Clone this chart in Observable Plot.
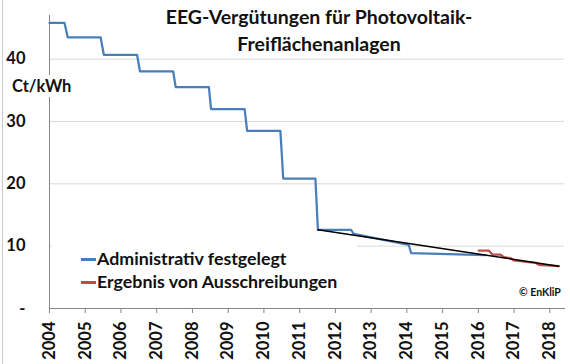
<!DOCTYPE html>
<html>
<head>
<meta charset="utf-8">
<script src="https://cdn.jsdelivr.net/npm/d3@7"></script>
<script src="https://cdn.jsdelivr.net/npm/@observablehq/plot@0.6"></script>
<style>
  html, body { margin: 0; padding: 0; background: #fff; }
  #wrap { position: relative; width: 570px; height: 364px; overflow: hidden; font-family: Lato, "Open Sans", sans-serif; font-weight: bold; color: #111; }
  #wrap svg { position: absolute; left: 0; top: 0; }
  .ov { position: absolute; white-space: nowrap; }
  #border { position: absolute; left: 2px; top: 0; width: 0; height: 364px; border-left: 1px solid #c8c8c8; }
  #title { left: 119px; width: 400px; top: 3px; text-align: center; font-size: 19.5px; line-height: 27px; }
  #unit { left: 10px; top: 75px; font-size: 16.5px; line-height: 22px; background: #fff; padding: 0 2px; }
  #legend { left: 52px; top: 238px; width: 305px; height: 56px; background: #fff; }
  .item { position: absolute; left: 29px; font-size: 17.8px; line-height: 22px; }
  .sw { display: inline-block; width: 15px; height: 2.5px; vertical-align: middle; margin-right: 1px; position: relative; top: -1px; }
  #copy { left: 519px; top: 285px; font-size: 10.5px; line-height: 14px; }
</style>
</head>
<body>
<div id="wrap">
  <div id="chart"></div>
  <div id="border"></div>
  <div class="ov" id="title">EEG-Vergütungen für Photovoltaik-<br>Freiflächenanlagen</div>
  <div class="ov" id="unit">Ct/kWh</div>
  <div class="ov" id="legend">
    <div class="item" style="top:9px"><span class="sw" style="background:#4A7EBB"></span>Administrativ festgelegt</div>
    <div class="item" style="top:32px"><span class="sw" style="background:#BE4B48"></span>Ergebnis von Ausschreibungen</div>
  </div>
  <div class="ov" id="copy">© EnKliP</div>
</div>
<script>
// ---- data ----
const yearTicks = [2004, 2005, 2006, 2007, 2008, 2009, 2010, 2011, 2012, 2013, 2014, 2015, 2016, 2017, 2018];
const yTicks = [0, 10, 20, 30, 40];

const adminYears  = [2004.00, 2004.42, 2004.51, 2005.43, 2005.52, 2006.45, 2006.53, 2007.46, 2007.53, 2008.46, 2008.52, 2009.46, 2009.53, 2010.46, 2010.54, 2011.44, 2011.51, 2012.44, 2012.51, 2014.05, 2014.12, 2016.20];
const adminValues = [45.8, 45.8, 43.5, 43.5, 40.7, 40.7, 38.05, 38.05, 35.5, 35.5, 32.0, 32.0, 28.5, 28.5, 20.85, 20.85, 12.62, 12.62, 11.98, 10.22, 8.87, 8.58];

const tenderYears  = [2016.01, 2016.29, 2016.39, 2016.62, 2016.71, 2016.90, 2016.99, 2017.60, 2017.69, 2018.25];
const tenderValues = [9.30, 9.30, 8.66, 8.66, 8.23, 8.07, 7.70, 7.33, 7.01, 6.79];

const trendYears  = [2011.51, 2018.25];
const trendValues = [12.62, 6.79];

const toRows = (xs, ys) => xs.map((x, i) => ({x, y: ys[i]}));
const admin = toRows(adminYears, adminValues);
const tender = toRows(tenderYears, tenderValues);
const trend = toRows(trendYears, trendValues);

const chart = Plot.plot({
  width: 570,
  height: 364,
  marginLeft: 49,
  marginRight: 6,
  marginTop: 15,
  marginBottom: 56,
  style: {fontFamily: "Lato, 'Open Sans', sans-serif", fontWeight: "bold", background: "transparent", color: "#111"},
  x: {type: "linear", domain: [2004, 2018.41]},
  y: {domain: [0, 47]},
  marks: [
    Plot.gridY(yTicks.filter(d => d > 0), {stroke: "#d9d9d9", strokeOpacity: 1}),
    Plot.frame({anchor: "left", stroke: "#868686"}),
    Plot.frame({anchor: "bottom", stroke: "#868686"}),
    Plot.axisY({ticks: yTicks, tickSize: 0, tickPadding: 24, tickFormat: d => d === 0 ? "-" : String(d), fontSize: 16.5, fill: "#111", label: null}),
    Plot.axisX({ticks: yearTicks, tickFormat: d => String(d), tickRotate: -90, tickSize: 5, tickPadding: 8, stroke: "#868686", fill: "#111", fontSize: 16.5, label: null}),
    Plot.line(admin, {x: "x", y: "y", stroke: "#4A7EBB", strokeWidth: 2.25, strokeLinejoin: "round"}),
    Plot.line(tender, {x: "x", y: "y", stroke: "#BE4B48", strokeWidth: 2.25, strokeLinejoin: "round"}),
    Plot.line(trend, {x: "x", y: "y", stroke: "#000", strokeWidth: 1.5})
  ]
});
document.getElementById("chart").appendChild(chart);
</script>
</body>
</html>
